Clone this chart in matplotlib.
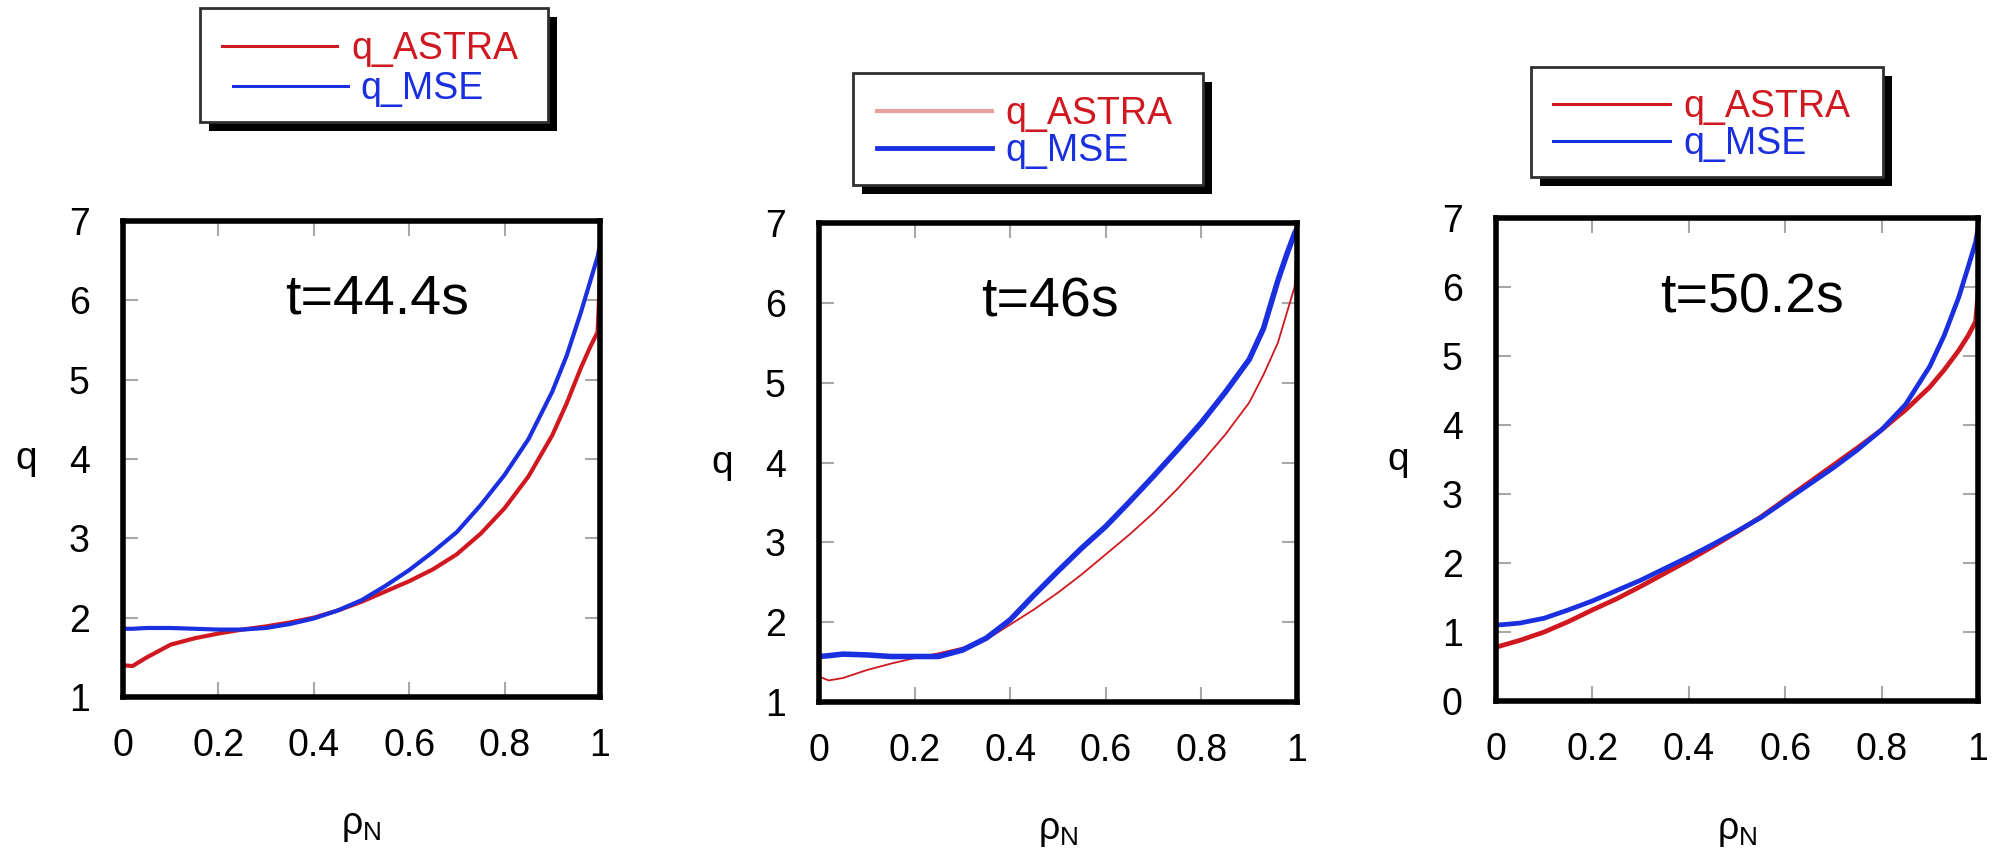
import numpy as np
import matplotlib.pyplot as plt
from matplotlib.patches import Rectangle
from matplotlib.lines import Line2D

plt.rcParams['font.family'] = ['Liberation Sans', 'DejaVu Sans']
plt.rcParams['mathtext.fontset'] = 'custom'
plt.rcParams['mathtext.rm'] = 'Liberation Sans'
plt.rcParams['mathtext.it'] = 'Liberation Sans'

# rho_N grid for the profiles
rho = [0.0, 0.02, 0.05, 0.1, 0.15, 0.2, 0.25, 0.3, 0.35, 0.4, 0.45, 0.5, 0.55,
       0.6, 0.65, 0.7, 0.75, 0.8, 0.85, 0.9, 0.93, 0.96, 0.98, 0.995, 1.0]

# t = 44.4 s
q_mse_1 = [1.86, 1.86, 1.87, 1.87, 1.86, 1.85, 1.85, 1.87, 1.92, 1.99, 2.09, 2.22, 2.40,
           2.60, 2.83, 3.08, 3.42, 3.80, 4.25, 4.85, 5.30, 5.85, 6.25, 6.55, 6.70]
q_astra_1 = [1.40, 1.39, 1.50, 1.66, 1.74, 1.80, 1.85, 1.89, 1.94, 2.00, 2.09, 2.20, 2.33,
             2.46, 2.61, 2.80, 3.06, 3.38, 3.78, 4.30, 4.70, 5.15, 5.42, 5.60, 6.30]

# t = 46 s
q_mse_2 = [1.57, 1.58, 1.60, 1.59, 1.57, 1.57, 1.57, 1.65, 1.80, 2.03, 2.34, 2.64, 2.93,
           3.20, 3.51, 3.83, 4.16, 4.50, 4.88, 5.29, 5.68, 6.28, 6.63, 6.87, 6.93]
q_astra_2 = [1.32, 1.27, 1.30, 1.40, 1.48, 1.55, 1.61, 1.68, 1.78, 1.97, 2.16, 2.37, 2.60,
             2.85, 3.10, 3.37, 3.67, 4.00, 4.35, 4.75, 5.10, 5.50, 5.90, 6.20, 6.80]

# t = 50.2 s
q_mse_3 = [1.10, 1.11, 1.13, 1.20, 1.32, 1.45, 1.60, 1.75, 1.92, 2.09, 2.27, 2.46, 2.66,
           2.90, 3.14, 3.38, 3.64, 3.93, 4.30, 4.85, 5.30, 5.85, 6.30, 6.65, 6.85]
q_astra_3 = [0.78, 0.82, 0.88, 1.00, 1.15, 1.32, 1.48, 1.66, 1.85, 2.04, 2.24, 2.45, 2.67,
             2.92, 3.17, 3.42, 3.67, 3.93, 4.22, 4.55, 4.80, 5.08, 5.30, 5.50, 5.90]

times = ['t=44.4s', 't=46s', 't=50.2s']
ylims = [(1, 7), (1, 7), (0, 7)]
labels = ['q_ASTRA', 'q_MSE']

RED = '#d01820'
BLUE = '#1a30e0'
W, H = 1995, 850


def px_box(left, top, right, bottom):
    return [left / W, 1 - bottom / H, (right - left) / W, (bottom - top) / H]


def draw_legend(fig, box, red_line, blue_line, red_text_x, blue_text_x,
                red_style, blue_style):
    x0, y0, x1, y1 = box
    shadow = Rectangle((x0 / W + 9 / W, 1 - (y1 + 9) / H), (x1 - x0) / W, (y1 - y0) / H,
                       transform=fig.transFigure, facecolor='black', edgecolor='none')
    frame = Rectangle((x0 / W, 1 - y1 / H), (x1 - x0) / W, (y1 - y0) / H,
                      transform=fig.transFigure, facecolor='white', edgecolor='#303030',
                      linewidth=2)
    fig.add_artist(shadow)
    fig.add_artist(frame)
    for (xa, xb, yy), style, tx, lab, col in [
            (red_line, red_style, red_text_x, labels[0], RED),
            (blue_line, blue_style, blue_text_x, labels[1], BLUE)]:
        fig.add_artist(Line2D([xa / W, xb / W], [1 - yy / H, 1 - yy / H],
                              transform=fig.transFigure, **style))
        fig.text(tx / W, 1 - (yy + 13) / H, lab, color=col, fontsize=27,
                 ha='left', va='baseline')


fig = plt.figure(figsize=(19.95, 8.5), dpi=100)

axes_px = [(123, 221, 600, 697), (819, 223, 1297, 702), (1496, 218, 1978, 701)]
series = [(q_astra_1, q_mse_1), (q_astra_2, q_mse_2), (q_astra_3, q_mse_3)]
line_w = [(3.0, 3.0), (1.3, 4.0), (3.4, 3.4)]

for i in range(3):
    ax = fig.add_axes(px_box(*axes_px[i]))
    qa, qm = series[i]
    ax.plot(rho, qa, color=RED, linewidth=line_w[i][0], solid_capstyle='round')
    ax.plot(rho, qm, color=BLUE, linewidth=line_w[i][1], solid_capstyle='round')
    ax.set_xlim(0, 1)
    ax.set_ylim(*ylims[i])
    ax.set_xticks([0, 0.2, 0.4, 0.6, 0.8, 1])
    ax.set_xticklabels(['0', '0.2', '0.4', '0.6', '0.8', '1'])
    ax.set_yticks(range(ylims[i][0], 8))
    ax.tick_params(direction='in', length=11, width=1.5, color='#a8a8a8',
                   labelsize=27, top=True, right=True)
    ax.tick_params(axis='y', pad=24)
    ax.tick_params(axis='x', pad=22)
    for sp in ax.spines.values():
        sp.set_linewidth(4)
        sp.set_color('black')
    ax.set_ylabel('q', rotation=0, fontsize=28, ha='center', va='center')
    ax.yaxis.set_label_coords(-97 / 477, 0.5)
    ax.set_xlabel(r'$\rho_N$', fontsize=27, va='center')
    ax.xaxis.set_label_coords(0.5, -0.27)
    ax.text(0.34, 0.805, times[i], transform=ax.transAxes, fontsize=40,
            ha='left', va='baseline')

thin = dict(color=RED, linewidth=2.2)
thin_b = dict(color=BLUE, linewidth=2.2)
draw_legend(fig, (200, 8, 548, 122), (222, 337, 46), (233, 348, 86), 351, 360,
            thin, thin_b)
draw_legend(fig, (853, 73, 1203, 185), (877, 992, 111), (877, 992, 148), 1005, 1005,
            dict(color='#e8a0a0', linewidth=3), dict(color=BLUE, linewidth=3.5))
draw_legend(fig, (1531, 67, 1883, 177), (1553, 1670, 104), (1553, 1670, 141), 1683, 1683,
            thin, thin_b)

fig.savefig('out.png', dpi=100)
